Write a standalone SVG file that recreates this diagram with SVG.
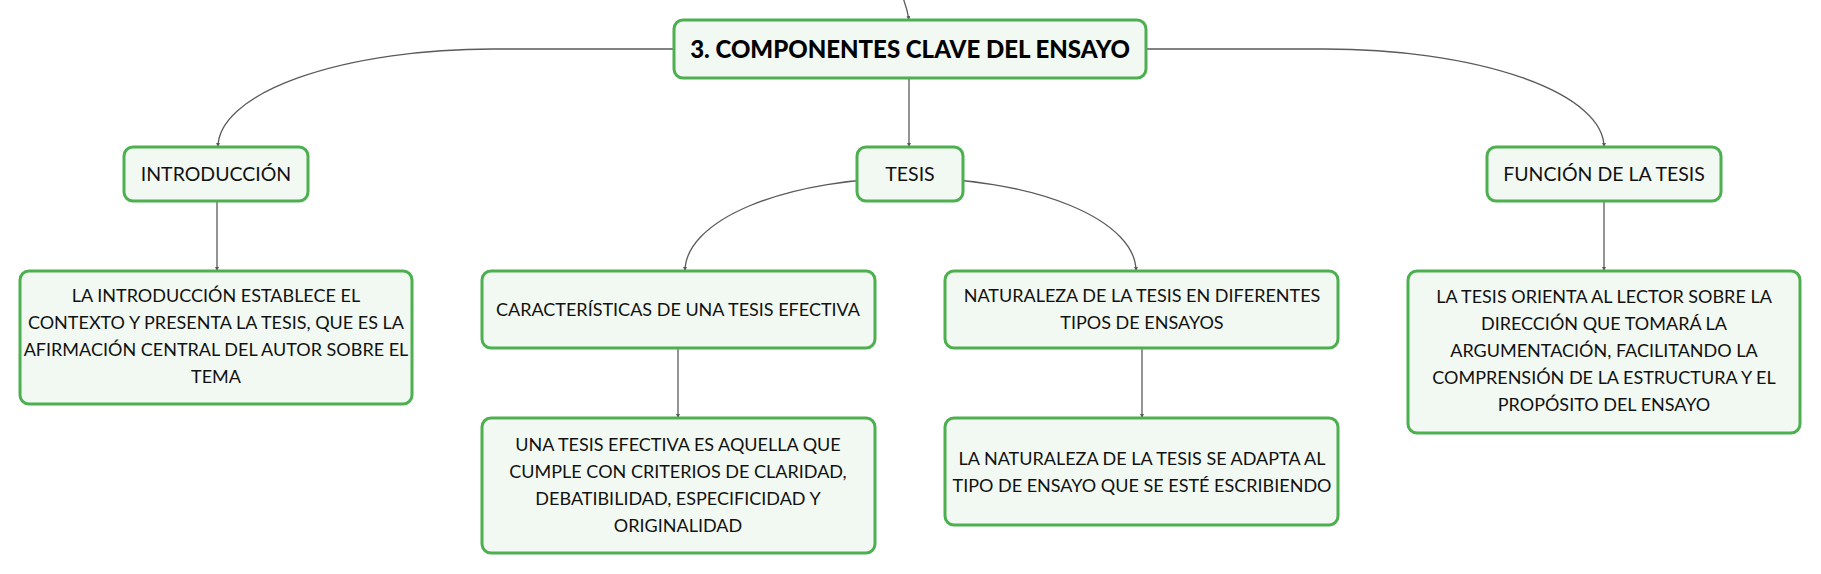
<svg xmlns="http://www.w3.org/2000/svg" width="1821" height="574" viewBox="0 0 1821 574">
<style>
.node rect{fill:#f2f9f2;stroke:#4caf50;stroke-width:3}
.t{font-family:Lato,"Open Sans","Liberation Sans",sans-serif;font-size:18px;fill:#111;text-anchor:middle}
.lbl{font-size:19.5px}
.title{font-family:Lato,"Open Sans","Liberation Sans",sans-serif;font-size:24px;font-weight:900;fill:#000;text-anchor:middle}
.c{fill:none;stroke:#5a5a5a;stroke-width:1.3}
</style>
<defs>
<marker id="ah" viewBox="0 0 6 6" refX="6" refY="3" markerWidth="4" markerHeight="4" markerUnits="userSpaceOnUse" orient="auto">
<path d="M0,0 L6,3 L0,6 z" fill="#5a5a5a"/>
</marker>
</defs>
<rect width="1821" height="574" fill="#ffffff"/>
<g id="connectors">
<path class="c" d="M903,-2 Q907,8 909,20" marker-end="url(#ah)"/>
<path class="c" d="M674,49 L493,49 A275,98 0 0 0 218,147" marker-end="url(#ah)"/>
<path class="c" d="M1146,49 L1325,49 A279,98 0 0 1 1604,147" marker-end="url(#ah)"/>
<path class="c" d="M909,78 L909,147" marker-end="url(#ah)"/>
<path class="c" d="M910,178 A225,93 0 0 0 685,271" marker-end="url(#ah)"/>
<path class="c" d="M910,178 A226,93 0 0 1 1136,271" marker-end="url(#ah)"/>
<path class="c" d="M217,201 L217,271" marker-end="url(#ah)"/>
<path class="c" d="M678,348 L678,418" marker-end="url(#ah)"/>
<path class="c" d="M1142,348 L1142,418" marker-end="url(#ah)"/>
<path class="c" d="M1604,201 L1604,271" marker-end="url(#ah)"/>
</g>
<g id="n-main" class="node">
<rect x="674" y="20" width="472" height="58" rx="9"/>
<text class="title" x="910" y="58">3. COMPONENTES CLAVE DEL ENSAYO</text>
</g>
<g id="n-intro" class="node">
<rect x="124" y="147" width="184" height="54" rx="9"/>
<text class="t lbl" x="216" y="181">INTRODUCCIÓN</text>
</g>
<g id="n-intro-desc" class="node">
<rect x="20" y="271" width="392" height="133" rx="9"/>
<text class="t" x="216" y="302">LA INTRODUCCIÓN ESTABLECE EL</text>
<text class="t" x="216" y="329">CONTEXTO Y PRESENTA LA TESIS, QUE ES LA</text>
<text class="t" x="216" y="356">AFIRMACIÓN CENTRAL DEL AUTOR SOBRE EL</text>
<text class="t" x="216" y="383">TEMA</text>
</g>
<g id="n-tesis" class="node">
<rect x="857" y="147" width="106" height="54" rx="9"/>
<text class="t lbl" x="910" y="181">TESIS</text>
</g>
<g id="n-caract" class="node">
<rect x="482" y="271" width="393" height="77" rx="9"/>
<text class="t" x="678" y="316">CARACTERÍSTICAS DE UNA TESIS EFECTIVA</text>
</g>
<g id="n-caract-desc" class="node">
<rect x="482" y="418" width="393" height="135" rx="9"/>
<text class="t" x="678" y="451">UNA TESIS EFECTIVA ES AQUELLA QUE</text>
<text class="t" x="678" y="478">CUMPLE CON CRITERIOS DE CLARIDAD,</text>
<text class="t" x="678" y="505">DEBATIBILIDAD, ESPECIFICIDAD Y</text>
<text class="t" x="678" y="532">ORIGINALIDAD</text>
</g>
<g id="n-natur" class="node">
<rect x="945" y="271" width="393" height="77" rx="9"/>
<text class="t" x="1142" y="302">NATURALEZA DE LA TESIS EN DIFERENTES</text>
<text class="t" x="1142" y="329">TIPOS DE ENSAYOS</text>
</g>
<g id="n-natur-desc" class="node">
<rect x="945" y="418" width="393" height="107" rx="9"/>
<text class="t" x="1142" y="465">LA NATURALEZA DE LA TESIS SE ADAPTA AL</text>
<text class="t" x="1142" y="492">TIPO DE ENSAYO QUE SE ESTÉ ESCRIBIENDO</text>
</g>
<g id="n-funcion" class="node">
<rect x="1487" y="147" width="234" height="54" rx="9"/>
<text class="t lbl" x="1604" y="181">FUNCIÓN DE LA TESIS</text>
</g>
<g id="n-funcion-desc" class="node">
<rect x="1408" y="271" width="392" height="162" rx="9"/>
<text class="t" x="1604" y="303">LA TESIS ORIENTA AL LECTOR SOBRE LA</text>
<text class="t" x="1604" y="330">DIRECCIÓN QUE TOMARÁ LA</text>
<text class="t" x="1604" y="357">ARGUMENTACIÓN, FACILITANDO LA</text>
<text class="t" x="1604" y="384">COMPRENSIÓN DE LA ESTRUCTURA Y EL</text>
<text class="t" x="1604" y="411">PROPÓSITO DEL ENSAYO</text>
</g>
</svg>
